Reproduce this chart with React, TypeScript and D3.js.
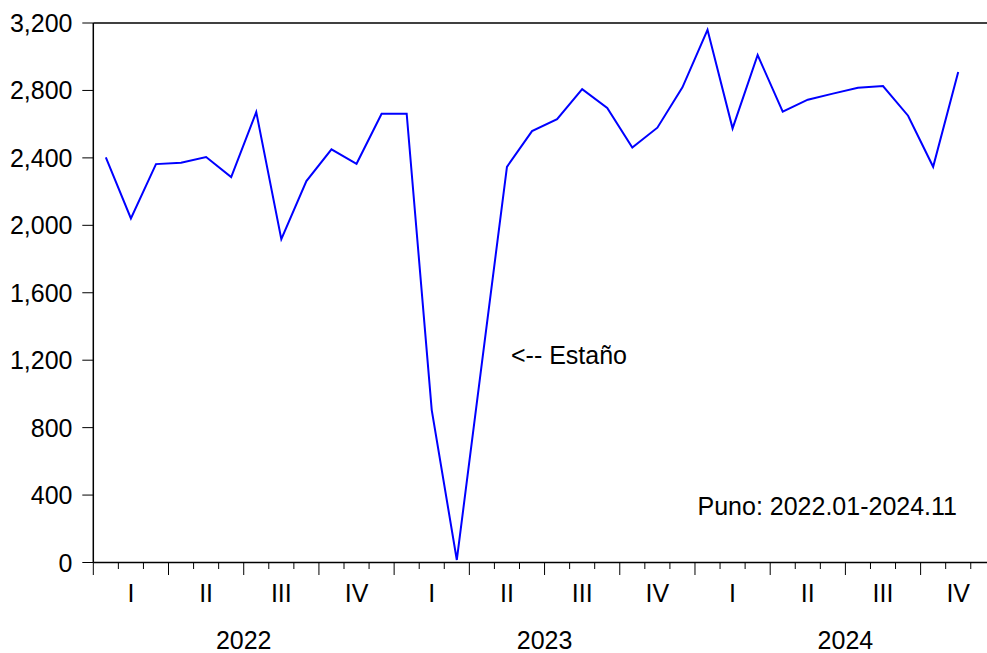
import React from "react";
import * as d3 from "d3";

// Monthly values, 2022.01 - 2024.11 (Puno, Estaño)
const months: string[] = [
  "2022.01","2022.02","2022.03","2022.04","2022.05","2022.06","2022.07","2022.08","2022.09","2022.10","2022.11","2022.12",
  "2023.01","2023.02","2023.03","2023.04","2023.05","2023.06","2023.07","2023.08","2023.09","2023.10","2023.11","2023.12",
  "2024.01","2024.02","2024.03","2024.04","2024.05","2024.06","2024.07","2024.08","2024.09","2024.10","2024.11",
];
const estano: number[] = [
  2403, 2041, 2363, 2371, 2405, 2286, 2672, 1918, 2262, 2451, 2365, 2662,
  2662, 904, 15, 1183, 2347, 2559, 2630, 2808, 2696, 2462, 2579, 2818,
  3160, 2575, 3010, 2674, 2745, 2781, 2816, 2826, 2650, 2347, 2909,
];
const yTicks: number[] = [0, 400, 800, 1200, 1600, 2000, 2400, 2800, 3200];
const quarterLabels: string[] = ["I", "II", "III", "IV"];
const years: string[] = ["2022", "2023", "2024"];
const totalMonths = 36; // axis spans through 2024.12
const seriesLabel = "<-- Estaño";
const noteLabel = "Puno: 2022.01-2024.11";

const W = 987;
const H = 653;
const left = 93.3;
const right = left + 25.07 * totalMonths;
const top = 23;
const bottom = 562.5;
const FONT = "'Liberation Sans', Arial, Helvetica, sans-serif";
const FS = 25;

export default function App() {
  const x = d3.scaleLinear().domain([0, totalMonths]).range([left, right]);
  const y = d3.scaleLinear().domain([0, 3200]).range([bottom, top]);
  const line = d3
    .line<number>()
    .x((_, i) => x(i + 0.5))
    .y((d) => y(d));

  const monthTicks = d3.range(0, totalMonths + 1);

  return (
    <svg
      width={W}
      height={H}
      style={{ position: "fixed", left: 0, top: 0, background: "#fff" }}
      fontFamily={FONT}
    >
      <rect x={0} y={0} width={W} height={H} fill="#fff" />
      {/* frame */}
      <line x1={left} x2={right} y1={top} y2={top} stroke="#000" strokeWidth={1.5} />
      <line x1={left} x2={left} y1={top} y2={bottom} stroke="#000" strokeWidth={1.5} />
      <line x1={left} x2={right} y1={bottom} y2={bottom} stroke="#000" strokeWidth={1.5} />
      <line x1={right} x2={right} y1={top} y2={bottom} stroke="#000" strokeWidth={1.5} />

      {/* y ticks */}
      {yTicks.map((t) => (
        <g key={t}>
          <line x1={left - 11} x2={left} y1={y(t)} y2={y(t)} stroke="#000" strokeWidth={1} />
          <text
            x={72.5}
            y={y(t)}
            textAnchor="end"
            dominantBaseline="central"
            fontSize={FS}
            fill="#000"
          >
            {d3.format(",")(t)}
          </text>
        </g>
      ))}

      {/* x ticks */}
      {monthTicks.map((m) => (
        <line
          key={m}
          x1={x(m)}
          x2={x(m)}
          y1={bottom}
          y2={bottom + (m % 3 === 0 ? 12.5 : 6.5)}
          stroke="#000"
          strokeWidth={1}
        />
      ))}

      {/* quarter labels */}
      {d3.range(0, totalMonths / 3).map((q) => (
        <text
          key={q}
          x={x(q * 3 + 1.5)}
          y={601.5}
          textAnchor="middle"
          fontSize={FS}
          fill="#000"
        >
          {quarterLabels[q % 4]}
        </text>
      ))}

      {/* year labels */}
      {years.map((yr, i) => (
        <text key={yr} x={x(i * 12 + 6)} y={649} textAnchor="middle" fontSize={FS} fill="#000">
          {yr}
        </text>
      ))}

      {/* series */}
      <path d={line(estano) || ""} fill="none" stroke="#0000ff" strokeWidth={2} strokeLinejoin="miter" />

      {/* annotations */}
      <text x={511} y={363.5} fontSize={FS} fill="#000">
        {seriesLabel}
      </text>
      <text x={957} y={515} textAnchor="end" fontSize={FS} fill="#000">
        {noteLabel}
      </text>
    </svg>
  );
}
